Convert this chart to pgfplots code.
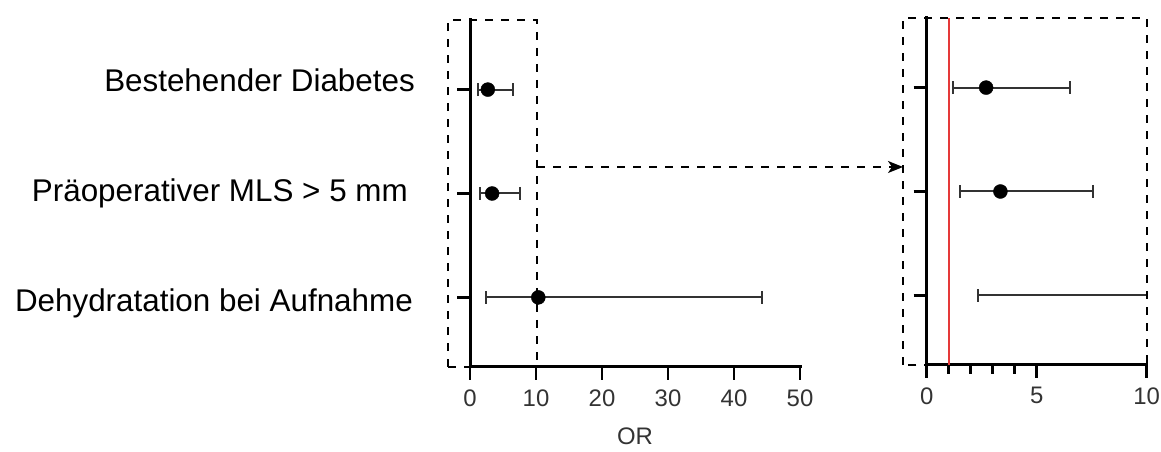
\documentclass[border=0pt]{standalone}
\usepackage{fontspec}
\setmainfont{Liberation Sans}
\usepackage{pgfplots}
\usepackage{pgfplotstable}
\pgfplotsset{compat=1.18}
\usetikzlibrary{arrows.meta}

% odds ratios with 95% CI
\pgfplotstableread{
pos  or     lo    hi
3    2.7    1.2   6.5
2    3.35   1.5   7.55
1    10.35  2.35  44.2
}\ordata

\pgfplotsset{
  forest/.style={
    scale only axis, height=347bp,
    axis lines=left,
    axis line style={-, line width=3bp, line cap=rect},
    ymin=0.33, ymax=3.67, ytick={1,2,3}, yticklabels={},
    tick align=outside, major tick length=13bp, minor tick length=9bp,
    every tick/.style={line width=2.6bp, black},
    /pgf/number format/assume math mode=true,
    xticklabel style={font=\fontsize{24}{26}\selectfont, text=black!80, yshift=-6bp},
  },
  ci/.style={only marks, mark=*, mark size=7bp, color=black,
    mark options={fill=black, draw=black},
    error bars/.cd, x dir=both, x explicit, error mark=|,
    error bar style={line width=2bp, black!80},
    error mark options={mark size=6.5bp, line width=2bp, black!80}},
}
\tikzset{boxline/.style={line width=1.6bp, dash pattern=on 8bp off 8bp}}

\begin{document}
\begin{tikzpicture}[x=1bp, y=1bp]
\useasboundingbox (0,0) rectangle (1161,452);
\clip (0,0) rectangle (1161,452);

% left panel: full range
\begin{axis}[forest, at={(470bp,85bp)}, anchor=south west, width=330bp,
  xmin=0, xmax=50, xtick={0,10,...,50},
  xlabel={OR},
  every axis x label/.style={at={(axis description cs:0.5,0)}, anchor=base,
    yshift=-78bp, font=\fontsize{24}{26}\selectfont, text=black!80}]
\addplot[ci] table[x=or, y=pos,
  x error plus expr=\thisrow{hi}-\thisrow{or},
  x error minus expr=\thisrow{or}-\thisrow{lo}] {\ordata};
\end{axis}

% right panel: zoom on 0..10
\begin{axis}[forest, at={(926.7bp,87bp)}, anchor=south west, width=220bp,
  xmin=0, xmax=10, xtick={0,5,10}, minor xtick={1,2,3,4}]
\draw[line width=1.6bp, red!75!white!90!black] (axis cs:1,0.33) -- (axis cs:1,3.67);
\addplot[ci] table[x=or, y=pos,
  x error plus expr=\thisrow{hi}-\thisrow{or},
  x error minus expr=\thisrow{or}-\thisrow{lo}] {\ordata};
\end{axis}

% zoom boxes and arrow
\draw[boxline] (448,85) rectangle (537,432);
\draw[boxline] (903,87) rectangle (1146.7,434);
\draw[boxline, -{Stealth[length=15bp, width=12bp, inset=4bp]}] (537,285) -- (903,285);

% row labels
\begin{scope}[every node/.style={font=\fontsize{31.5}{36}\selectfont, inner sep=0pt}]
\node[anchor=base east] at (415,360.3) {Bestehender Diabetes};
\node[anchor=base east] at (408,250) {Präoperativer MLS > 5 mm};
\node[anchor=base east] at (413,140) {Dehydratation bei Aufnahme};
\end{scope}
\end{tikzpicture}
\end{document}
